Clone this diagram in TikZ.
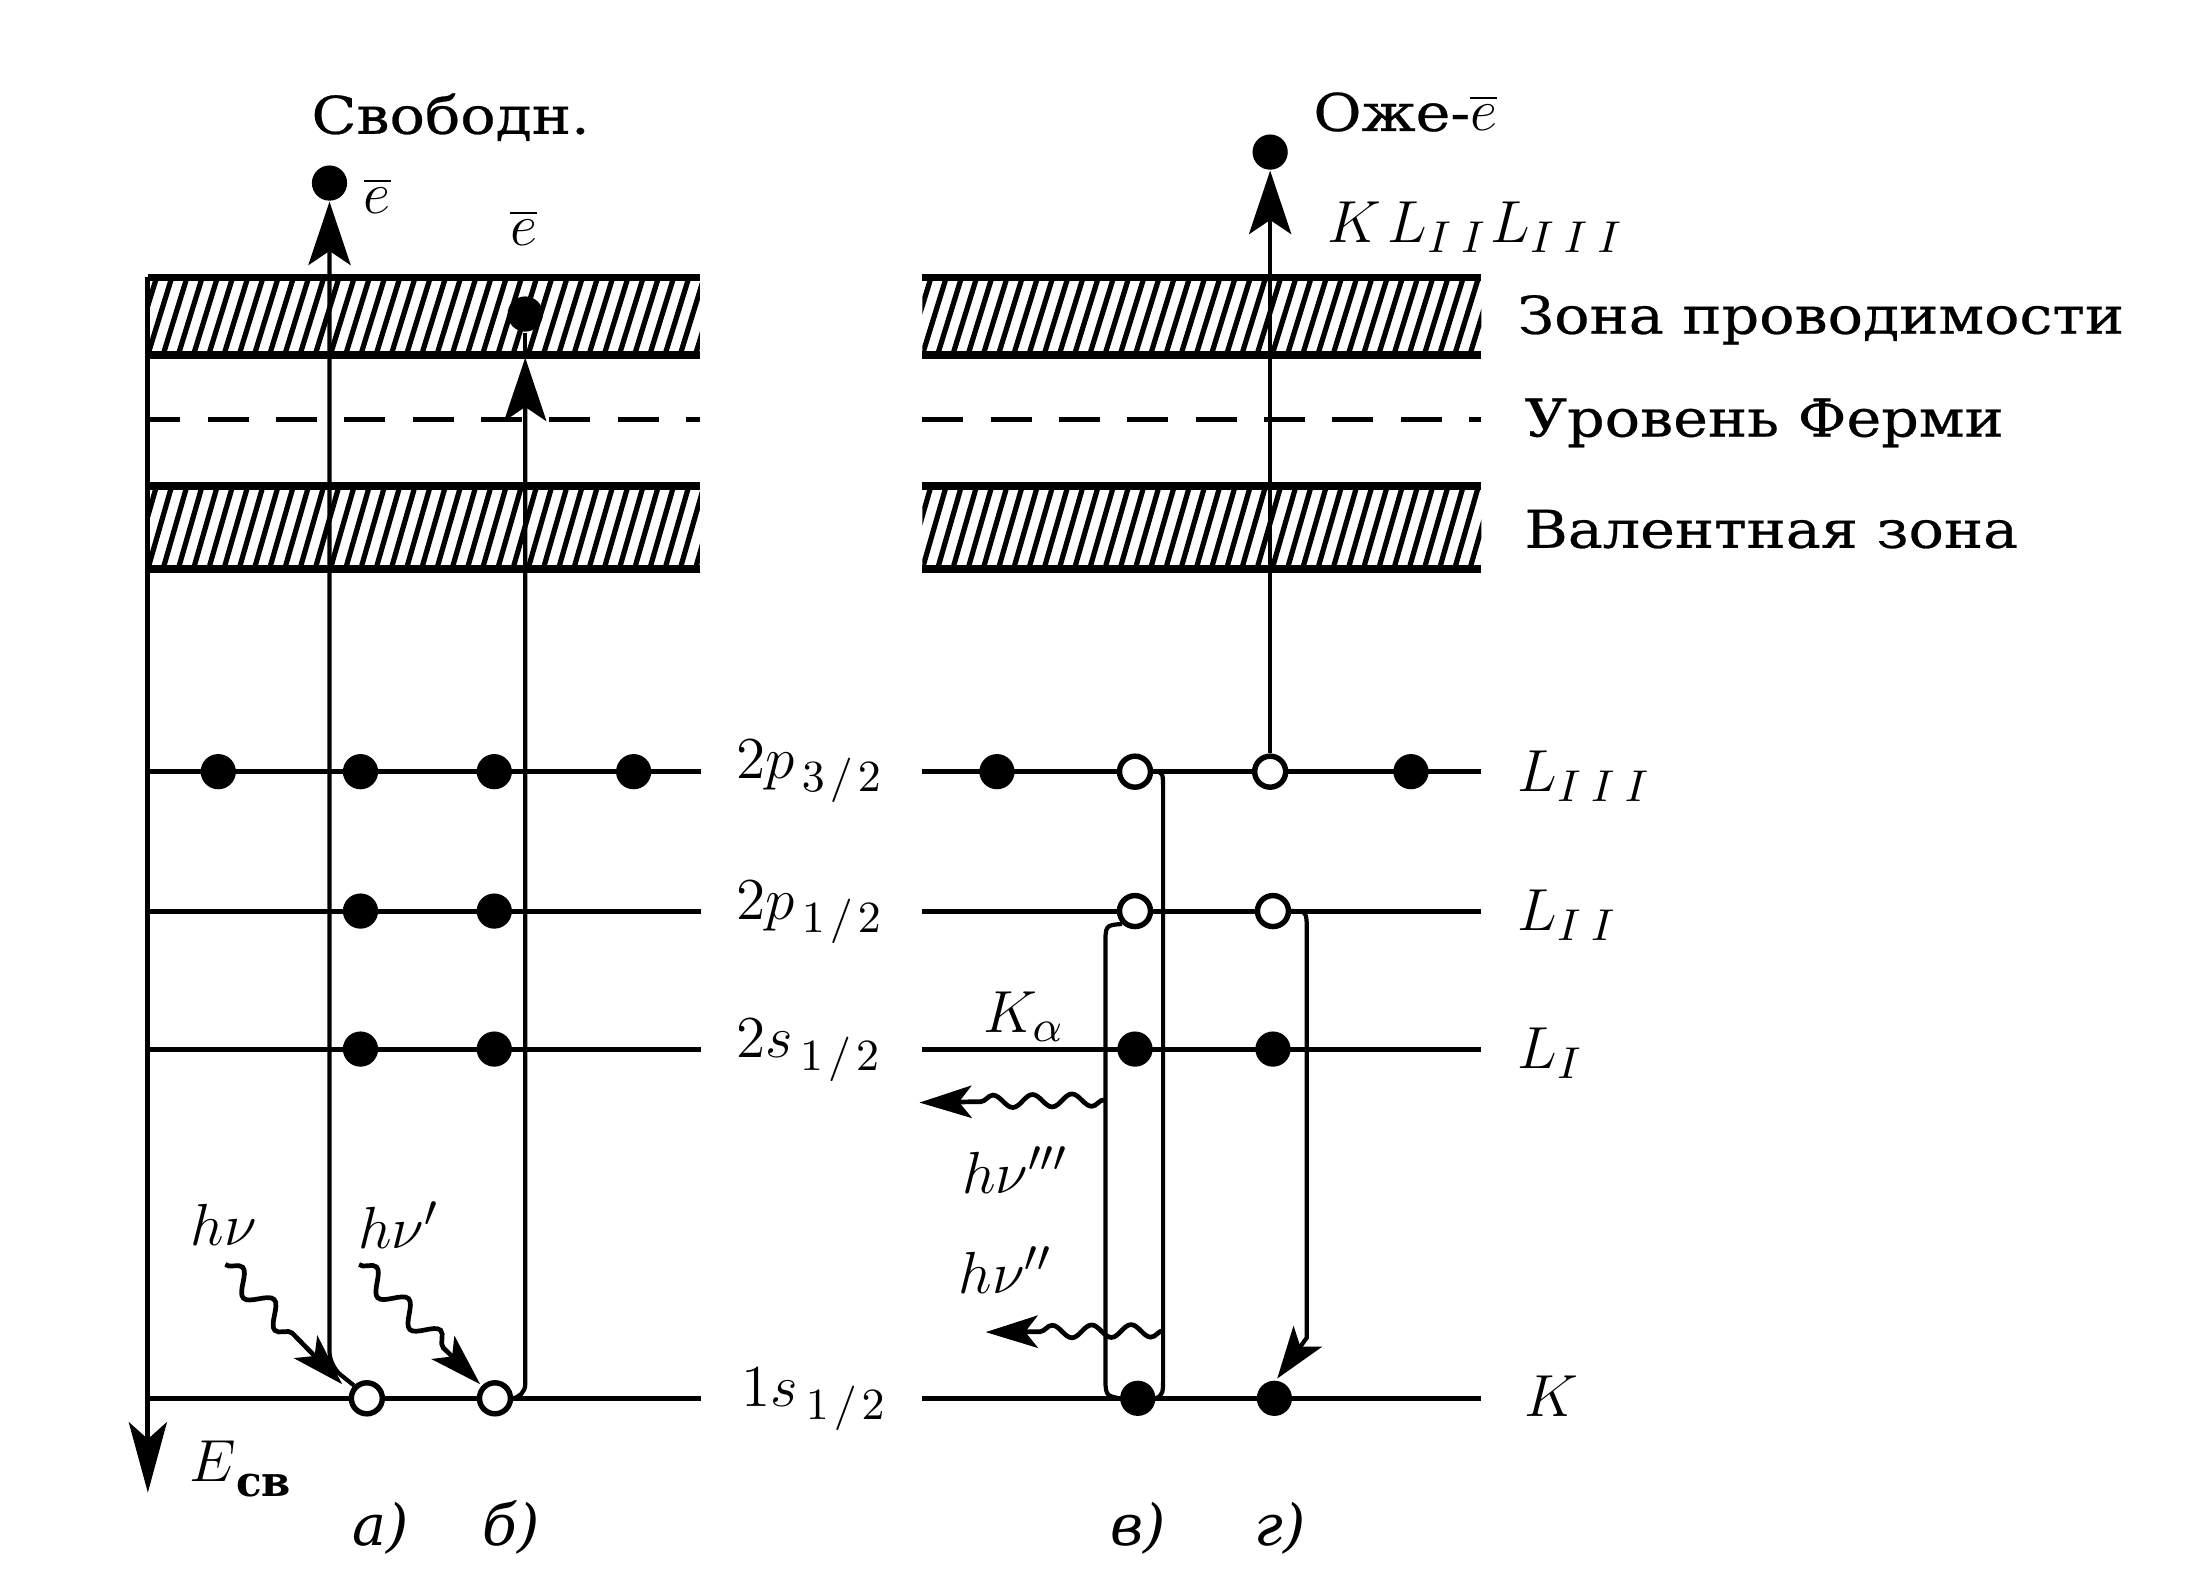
\documentclass[tikz,border=0pt]{standalone}
\usepackage{fontspec}
\newfontfamily\rufont[FakeStretch=1.13,FakeBold=0.5]{DejaVu Serif}
\newfontfamily\ruplain{DejaVu Serif}
\usetikzlibrary{arrows.meta,decorations.pathmorphing}
\newcommand\HatchBand[4]{%
  \begin{scope}
    \clip (#1,#2) rectangle (#3,#4);
    \foreach \k in {-3,...,40}{\draw[hatchline] ({#1+\k*10.8},#4) -- ++(17,{#2-#4});}
  \end{scope}
  \draw[bandedge] (#1,#2) -- (#3,#2);
  \draw[bandedge] (#1,#4) -- (#3,#4);
}
\tikzset{
  lvl/.style={line width=1pt},
  vline/.style={line width=0.85pt},
  bandedge/.style={line width=1.5pt},
  hatchline/.style={line width=1.05pt},
  fermi/.style={line width=1pt, dash pattern=on 0.29cm off 0.195cm},
  dotf/.style={circle, fill=black, inner sep=0pt, minimum size=0.25cm},
  doto/.style={circle, draw=black, fill=white, line width=1.1pt, inner sep=0pt, minimum size=0.22cm},
  bigarrow/.style={-{Stealth[length=0.45cm,width=0.3cm,inset=0.1cm]}},
  smallarrow/.style={-{Stealth[length=0.37cm,width=0.23cm,inset=0.09cm]}},
  photon/.style={line width=0.95pt, smallarrow, decorate,
     decoration={snake, amplitude=0.075cm, segment length=0.32cm, post length=0.36cm}},
  hphoton/.style={line width=0.95pt, smallarrow, decorate,
     decoration={snake, amplitude=0.045cm, segment length=0.28cm, post length=0.38cm}},
  txt/.style={font=\rufont\fontsize{10.5}{12}\selectfont, inner sep=0pt},
  mth/.style={font=\fontsize{12.5}{14}\selectfont, inner sep=0pt},
  panel/.style={font=\ruplain\itshape\fontsize{11.5}{13}\selectfont, inner sep=0pt},
}
\begin{document}
\begin{tikzpicture}[x=0.01cm,y=-0.01cm]
\useasboundingbox (0,0) rectangle (1568,1127);
% bands
\HatchBand{105}{197}{497}{252}
\HatchBand{105}{345}{497}{404}
\HatchBand{655}{197}{1052}{252}
\HatchBand{655}{345}{1052}{404}
\draw[fermi, dash phase=0.06cm] (105,298) -- (497,298);
\draw[fermi] (655,298) -- (1052,298);
% levels
\foreach \y in {548,647,745,993}{
  \draw[lvl] (105,\y) -- (498,\y);
  \draw[lvl] (655,\y) -- (1052,\y);
}
% energy axis
\coordinate (ax0) at (105,197);
\coordinate (ax1) at (105,1060);
\draw[lvl, -{Stealth[length=0.5cm,width=0.27cm,inset=0.12cm]}] (ax0) -- (ax1);
% electrons, left
\foreach \n/\x/\y in {p31/155/548, p32/256/548, p33/351/548, p34/450/548,
                      p11/256/647, p12/351/647, s21/256/745, s22/351/745}
  \node[dotf] (\n) at (\x,\y) {};
\node[doto] (ca) at (260.5,993) {};
\node[doto] (cb) at (351.5,993) {};
\node[dotf] (ea) at (234,130) {};
\node[dotf] (eb) at (373,223) {};
% electrons, right
\foreach \n/\x/\y in {r31/708/548, r34/1002/548, r11/806/745, r12/904/745,
                      k1/808/993, k2/905/993}
  \node[dotf] (\n) at (\x,\y) {};
\node[doto] (h31) at (806,548) {};
\node[doto] (h32) at (902,548) {};
\node[doto] (h21) at (806,647) {};
\node[doto] (h22) at (904,647) {};
\node[dotf] (ae) at (902,108) {};
% transitions a) and b)
\draw[vline, bigarrow, rounded corners=0.1cm] (ca.135) -- (234,970) -- (ea.south);
\coordinate (btip) at (373,254);
\draw[vline, bigarrow, rounded corners=0.1cm] (cb.east) -- (373,993) -- (btip);
\draw[vline] (btip) -- (eb.south);
% incoming photons
\coordinate (pa0) at (160,898); \coordinate (pa1) at (243,983);
\coordinate (pb0) at (255,898); \coordinate (pb1) at (341,983);
\draw[photon] (pa0) -- (pa1);
\draw[photon] (pb0) -- (pb1);
% Auger electron
\draw[vline, bigarrow] (h32.north) -- (ae.south);
% process v)
\draw[vline] (h31.east) .. controls (826,548) .. (826,563) -- (826,975) .. controls (826,990) .. (k1.east);
\draw[vline] (h21.south west) .. controls (785,657) .. (785,672) -- (785,975) .. controls (785,991) .. (k1.west);
% process g)
\coordinate (gtip) at (907,979);
\draw[vline, -{Stealth[length=0.37cm,width=0.25cm,inset=0.09cm]}] (h22.east) .. controls (928,647) .. (928,662) -- (928,950) -- (gtip);
% emitted photons
\coordinate (w30) at (784,781); \coordinate (w31) at (653,783);
\coordinate (w20) at (826,945); \coordinate (w21) at (700,946);
\draw[hphoton] (w30) -- (w31);
\draw[hphoton] (w20) -- (w21);
% labels
\node[txt, anchor=base] (tfree) at (320,95) {Свободн.};
\node[txt, anchor=base west] (tauger) at (932,93) {Оже-{\fontsize{12.5}{14}\selectfont$\overline{e}$}};
\node[mth] (lea) at (268,139) {$\overline{e}$};
\node[mth] (leb) at (372,162) {$\overline{e}$};
\node[mth, anchor=base west] (lkll) at (942,172) {$K\mkern2mu L_{I\mkern4mu I}\mkern1mu L_{I\mkern4mu I\mkern4mu I}$};
\node[txt, anchor=base west] (tcond) at (1077,237) {Зона проводимости};
\node[txt, anchor=base west] (tferm) at (1082,310) {Уровень Ферми};
\node[txt, anchor=base west] (tval) at (1082,389) {Валентная зона};
\node[mth, anchor=base west] (l1) at (522,553) {$2p_{\mkern3mu 3\mkern2mu/\mkern2mu 2}$};
\node[mth, anchor=base west] (l2) at (522,653) {$2p_{\mkern3mu 1\mkern2mu/\mkern2mu 2}$};
\node[mth, anchor=base west] (l3) at (522,751) {$2s_{\mkern3mu 1\mkern2mu/\mkern2mu 2}$};
\node[mth, anchor=base west] (l4) at (526,999) {$1s_{\mkern3mu 1\mkern2mu/\mkern2mu 2}$};
\node[mth, anchor=base west] (r1) at (1077,562) {$L_{I\mkern4mu I\mkern4mu I}$};
\node[mth, anchor=base west] (r2) at (1077,661) {$L_{I\mkern4mu I}$};
\node[mth, anchor=base west] (r3) at (1077,759) {$L_{I}$};
\node[mth, anchor=base west] (r4) at (1082,1006) {$K$};
\node[mth] (lka) at (727,722) {$K_\alpha$};
\node[mth] (lhn) at (159,870) {$h\nu$};
\node[mth] (lhn1) at (283,870) {$h\nu'$};
\node[mth] (lhn3) at (721,831) {$h\nu'''$};
\node[mth] (lhn2) at (714,902) {$h\nu''$};
\node[mth, anchor=west] (lE) at (134,1043) {$E$\raisebox{-0.55ex}{\ruplain\bfseries\fontsize{8.5}{10}\selectfont св}};
\node[panel] (pa) at (270,1085) {а)};
\node[panel] (pb) at (363,1085) {б)};
\node[panel] (pc) at (808,1085) {в)};
\node[panel] (pd) at (909,1085) {г)};
\end{tikzpicture}
\end{document}
